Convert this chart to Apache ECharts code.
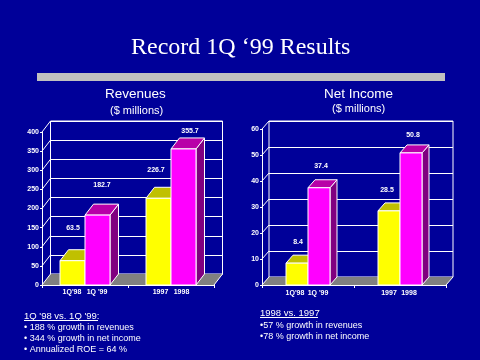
<!DOCTYPE html>
<html>
<head>
<meta charset="utf-8">
<style>html,body{margin:0;padding:0;background:#000099}#main{width:480px;height:360px}</style>
<script src="https://cdn.jsdelivr.net/npm/echarts@6/dist/echarts.min.js"></script>
</head>
<body>
<div id="main"></div>
<script>
// values
const groupNames = ['quarter', 'year'];
const revTicks = [0, 50, 100, 150, 200, 250, 300, 350, 400];
const revFirst = [63.5, 226.7];   // yellow: 1Q'98, 1997
const revSecond = [182.7, 355.7]; // magenta: 1Q'99, 1998
const incTicks = [0, 10, 20, 30, 40, 50, 60];
const incFirst = [8.4, 28.5];
const incSecond = [37.4, 50.8];
const barNamesFirst = ["1Q'98", '1997'];
const barNamesSecond = ["1Q '99", '1998'];

const WHITE = '#ffffff';
const BG = '#000099';
const FONT = 'Arial, "Liberation Sans", sans-serif';

// layout of the two pseudo 3d charts, offsets are [first bars, second bars] by group
const revBox = {left: 42, top: 132, right: 214, bottom: 285, dx: 8.5, dy: 11, barW: 25,
  labelX: [[0.5, -2.5], [4.5, 6.5]], labelY: [[-33, -28], [-30, -18]], nameX: [[-0.5, 2], [-0.5, -2]], nameY: 7};
const incBox = {left: 262, top: 129, right: 446, bottom: 285, dx: 7, dy: 8, barW: 22,
  labelX: [[1, -2], [2, 2]], labelY: [[-21, -21], [-22, -18]], nameX: [[-2, 0], [-1, -2]], nameY: 8};

function barItem(side, faceColor, topColor, sideColor, box, names, digits) {
  return function (params, api) {
    const i = api.value(0), v = api.value(1);
    const base = api.coord([i, 0]);
    const top = api.coord([i, v]);
    const x0 = side === 0 ? base[0] - box.barW : base[0];
    const x1 = x0 + box.barW;
    const mid = (x0 + x1) / 2;
    const dx = box.dx, dy = box.dy;
    const line = {stroke: WHITE, lineWidth: 1};
    return {
      type: 'group',
      children: [
        {type: 'polygon', shape: {points: [[x1, top[1]], [x1 + dx, top[1] - dy], [x1 + dx, base[1] - dy], [x1, base[1]]]}, style: {fill: sideColor, ...line}},
        {type: 'polygon', shape: {points: [[x0, top[1]], [x0 + dx, top[1] - dy], [x1 + dx, top[1] - dy], [x1, top[1]]]}, style: {fill: topColor, ...line}},
        {type: 'rect', shape: {x: x0, y: top[1], width: box.barW, height: base[1] - top[1]}, style: {fill: faceColor, ...line}},
        {type: 'text', style: {x: mid + box.labelX[side][i], y: top[1] + box.labelY[side][i], text: v.toFixed(digits), fill: WHITE, font: 'bold 7px ' + FONT, align: 'center', verticalAlign: 'middle'}},
        {type: 'text', style: {x: mid + box.nameX[side][i], y: base[1] + box.nameY, text: names[i], fill: WHITE, font: 'bold 7px ' + FONT, align: 'center', verticalAlign: 'middle'}}
      ]
    };
  };
}

// floor and the diagonal lines of the side wall
function wallItem(box, ticks) {
  return function (params, api) {
    const dx = box.dx, dy = box.dy;
    const children = [{
      type: 'polygon',
      shape: {points: [[box.left, box.bottom], [box.left + dx, box.bottom - dy], [box.right + dx, box.bottom - dy], [box.right, box.bottom]]},
      style: {fill: '#808080'}
    }];
    ticks.forEach(t => {
      const p = api.coord([0, t]);
      children.push({type: 'line', shape: {x1: box.left, y1: p[1], x2: box.left + dx, y2: p[1] - dy}, style: {stroke: WHITE, lineWidth: 1}});
    });
    children.push({type: 'line', shape: {x1: box.right, y1: box.bottom, x2: box.right + dx, y2: box.bottom - dy}, style: {stroke: WHITE, lineWidth: 1}});
    return {type: 'group', children};
  };
}

const grid = [], xAxis = [], yAxis = [], series = [];

function addChart(box, ticks, first, second, digits) {
  const max = ticks[ticks.length - 1];
  const step = ticks[1] - ticks[0];
  // back wall, only the grid lines
  const back = grid.length;
  grid.push({left: box.left + box.dx, top: box.top - box.dy, width: box.right - box.left, height: box.bottom - box.top, show: true, borderColor: WHITE, borderWidth: 1, backgroundColor: 'transparent'});
  xAxis.push({gridIndex: back, type: 'category', data: groupNames, show: false});
  yAxis.push({gridIndex: back, type: 'value', min: 0, max: max, interval: step, axisLine: {show: false}, axisTick: {show: false}, axisLabel: {show: false}, splitLine: {lineStyle: {color: WHITE, width: 1}}});
  // front, axis labels and bars
  const front = grid.length;
  grid.push({left: box.left, top: box.top, width: box.right - box.left, height: box.bottom - box.top});
  xAxis.push({gridIndex: front, type: 'category', data: groupNames, boundaryGap: true, axisLine: {lineStyle: {color: WHITE, width: 1}}, axisTick: {show: true, length: 3, lineStyle: {color: WHITE}}, axisLabel: {show: false}, splitLine: {show: false}});
  yAxis.push({gridIndex: front, type: 'value', min: 0, max: max, interval: step, axisLine: {show: true, lineStyle: {color: WHITE, width: 1}}, axisTick: {show: true, length: 2, lineStyle: {color: WHITE}}, axisLabel: {color: WHITE, fontFamily: FONT, fontSize: 7, fontWeight: 'bold', margin: 3}, splitLine: {show: false}});
  series.push({type: 'custom', xAxisIndex: front, yAxisIndex: front, coordinateSystem: 'cartesian2d', z: 1, silent: true, data: [[0, 0]], renderItem: wallItem(box, ticks)});
  series.push({type: 'custom', xAxisIndex: front, yAxisIndex: front, z: 3, silent: true, data: first.map((v, i) => [i, v]), renderItem: barItem(0, '#ffff00', '#c0c000', '#808000', box, barNamesFirst, digits)});
  series.push({type: 'custom', xAxisIndex: front, yAxisIndex: front, z: 4, silent: true, data: second.map((v, i) => [i, v]), renderItem: barItem(1, '#ff00ff', '#b800a8', '#800080', box, barNamesSecond, digits)});
}

addChart(revBox, revTicks, revFirst, revSecond, 1);
addChart(incBox, incTicks, incFirst, incSecond, 1);

function txt(left, top, text, size) {
  return {left, top, text, padding: 0, textStyle: {color: WHITE, fontFamily: FONT, fontSize: size, fontWeight: 'normal'}};
}

const option = {
  backgroundColor: BG,
  animation: false,
  title: [
    {left: 131, top: 36, text: 'Record 1Q \u201899 Results', padding: 0, textStyle: {color: WHITE, fontFamily: '"Times New Roman", "Liberation Serif", serif', fontSize: 24, fontWeight: 'normal', textShadowColor: '#000000', textShadowBlur: 0, textShadowOffsetX: 1, textShadowOffsetY: 1}},
    txt(105, 87, 'Revenues', 13.5),
    txt(110, 105, '($ millions)', 11),
    txt(324, 87, 'Net Income', 13.5),
    txt(332, 103, '($ millions)', 11),
    txt(24, 311, "1Q '98 vs. 1Q '99:", 9.5),
    txt(24, 323, '\u2022 188 % growth in revenues', 9),
    txt(24, 334, '\u2022 344 % growth in net income', 9),
    txt(24, 345, '\u2022 Annualized ROE = 64 %', 9),
    txt(260, 308, '1998 vs. 1997', 9.5),
    txt(260, 321, '\u202257 % growth in revenues', 9),
    txt(260, 332, '\u202278 % growth in net income', 9)
  ],
  graphic: [
    {type: 'rect', shape: {x: 37, y: 73, width: 408, height: 8}, style: {fill: '#c0c0c0'}},
    {type: 'line', shape: {x1: 24, y1: 320.5, x2: 98, y2: 320.5}, style: {stroke: WHITE, lineWidth: 1}},
    {type: 'line', shape: {x1: 260, y1: 317.5, x2: 318, y2: 317.5}, style: {stroke: WHITE, lineWidth: 1}}
  ],
  grid, xAxis, yAxis, series
};

const chart = echarts.init(document.getElementById('main'), null, {renderer: 'canvas'});
chart.setOption(option);
</script>
</body>
</html>
